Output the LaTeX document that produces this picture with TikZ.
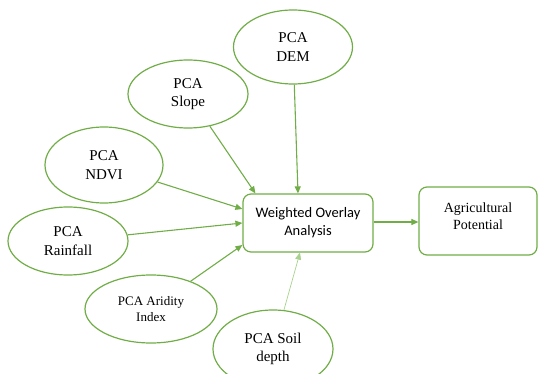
\documentclass[tikz,border=0pt]{standalone}
\usepackage{fontspec}
\setmainfont{Liberation Serif}
\newfontfamily\calibri{Carlito}
\usepackage{tikz}
\usetikzlibrary{arrows.meta, positioning, shapes.geometric}
\definecolor{pcagreen}{RGB}{112,173,71}
\definecolor{palegreen}{RGB}{169,209,142}

\begin{document}
\begin{tikzpicture}[
  x=1pt, y=-1pt,
  pca/.style={draw=pcagreen, line width=1.2pt, ellipse, inner sep=0pt,
              minimum width=120pt, minimum height=68pt, align=center,
              font=\fontsize{15}{18.5}\selectfont},
  box/.style={draw=pcagreen, line width=1.2pt, rounded corners=8pt,
              inner sep=0pt, align=center},
  arr/.style={-{Triangle[length=7pt, width=6pt]}, line width=1.1pt, color=pcagreen},
  thinarr/.style={-{Triangle[length=7pt, width=6pt]}, line width=0.7pt, color=palegreen}
]
  \useasboundingbox (0,0) rectangle (538,374);

  % Inputs
  \node[pca, minimum width=119pt, minimum height=74pt] (dem) at (293,47) {PCA\\DEM};
  \node[pca] (slope) at (188,94) {PCA\\Slope};
  \node[pca, minimum width=118pt, minimum height=76pt] (ndvi) at (104,165) {PCA\\NDVI};
  \node[pca] (rain) at (68,241) {PCA\\Rainfall};
  \node[pca, minimum width=132pt,
        font=\fontsize{13}{15.5}\selectfont] (arid) at (151,309) {PCA Aridity\\Index};
  \node[pca, minimum height=78pt] (soil) at (273,349) {PCA Soil\\depth};

  % Overlay and result
  \node[box, minimum width=130pt, minimum height=58pt,
        font=\calibri\fontsize{14.5}{18}\selectfont] (wov) at (308,223) {Weighted Overlay\\Analysis};
  \node[box, minimum width=118pt, minimum height=68pt] (agri) at (478,221) {};
  \node[align=center, font=\fontsize{14}{17}\selectfont] (agritext)
       at ([yshift=5pt]agri.center) {Agricultural\\Potential};

  \draw[arr] (dem) -- ([xshift=-10pt]wov.north);
  \draw[arr] (slope) -- ([xshift=13pt]wov.north west);
  \draw[arr] (ndvi) -- ([yshift=14pt]wov.west);
  \draw[arr] (rain) -- (wov.west);
  \draw[arr] (arid) -- ([yshift=-22pt]wov.west);
  \draw[thinarr] (soil) -- ([xshift=-8pt]wov.south);
  \draw[arr] ([yshift=1pt]wov.east) -- ([yshift=1pt]wov.east -| agri.west);
\end{tikzpicture}
\end{document}
